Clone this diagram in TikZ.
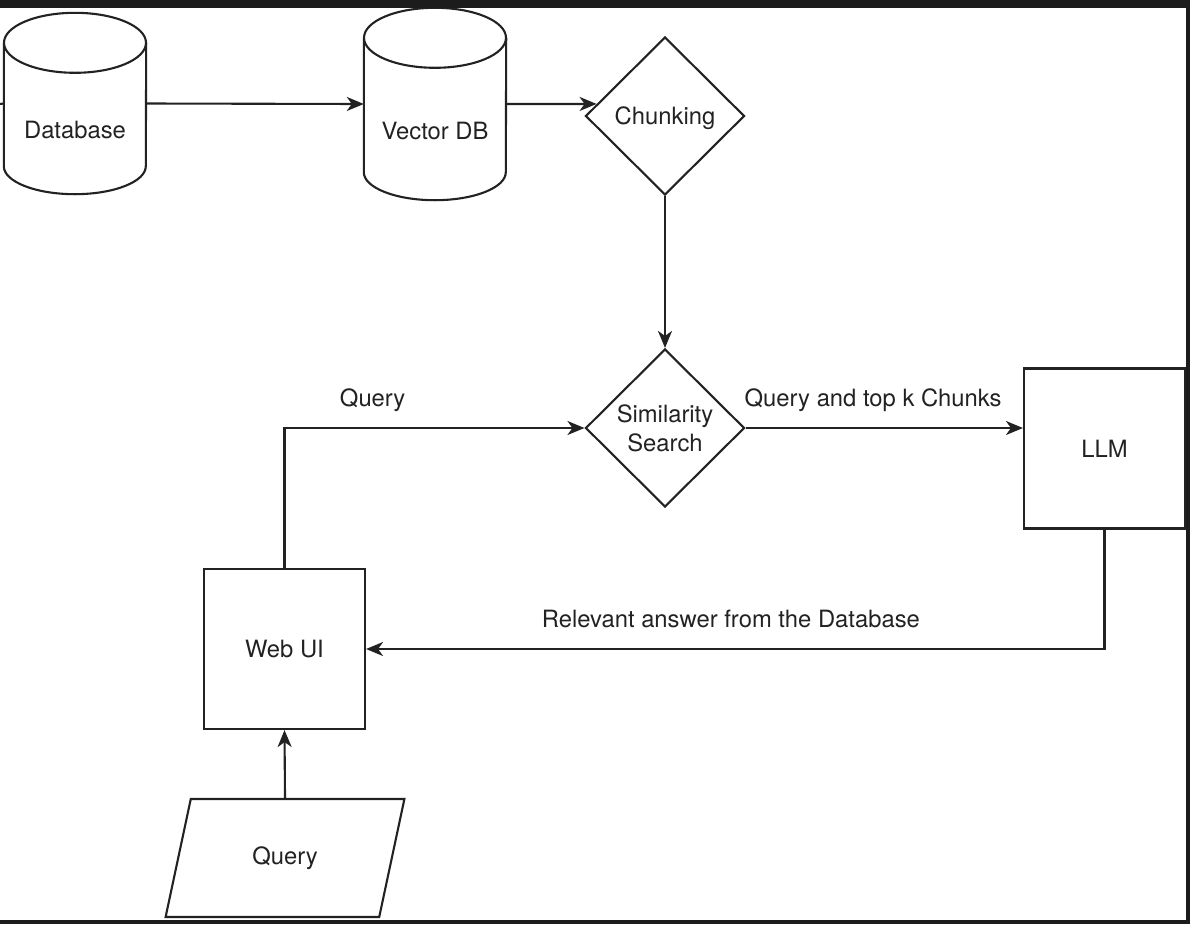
\documentclass[tikz,border=0pt]{standalone}
\usepackage{fontspec}
\setmainfont{TeX Gyre Heros}
\usetikzlibrary{arrows.meta,positioning,shapes.geometric}

\definecolor{ink}{HTML}{222222}
\definecolor{frame}{HTML}{1C1C1C}

\newcommand{\lowered}[1]{\raisebox{-35pt}[0pt][0pt]{#1}}

\begin{document}
\begin{tikzpicture}[
  x=1pt, y=-1pt,
  >={Stealth[length=17pt, width=14pt, inset=5pt]},
  every node/.style={font=\fontsize{23.8}{29}\selectfont, text=ink},
  wire/.style={draw=ink, line width=2.1pt},
  store/.style={minimum width=142pt, minimum height=#1, inner sep=0pt,
    append after command={\pgfextra{
      \draw[wire] ([yshift=-30pt]\tikzlastnode.north) ellipse [x radius=71pt, y radius=30pt];
      \draw[wire] ([yshift=-30pt]\tikzlastnode.north west) -- ([yshift=28pt]\tikzlastnode.south west)
        arc[start angle=180, end angle=360, x radius=71pt, y radius=28pt]
        -- ([yshift=-30pt]\tikzlastnode.north east);
    }}},
  store/.default=181pt,
  choice/.style={wire, diamond, inner sep=0pt, minimum width=159pt, minimum height=158pt, align=center},
  block/.style={wire, rectangle, minimum width=161pt, minimum height=160pt},
  entry/.style={wire, trapezium, trapezium left angle=72, trapezium right angle=108, trapezium stretches=true, minimum width=240pt, minimum height=118pt},
  tag/.style={anchor=base, yshift=22pt}
]
\useasboundingbox (0,0) rectangle (1190,924);

% Nodes
\node[store] (db) at (75, 103.5) {\lowered{Database}};
\node[store=192pt] (vdb) at (435, 104) {\lowered{Vector DB}};
\node[choice, text depth=0pt] (chunk) at (665, 116) {Chunking};
\node[choice] (sim) at (665, 428) {Similarity\\Search};
\node[block] (llm) at (1104.5, 448.5) {LLM};
\node[block] (web) at (284.5, 649) {Web UI};
\node[entry] (qry) at (285, 858) {Query};

\coordinate (edge) at (0, 104);

% Arcs: ingestion
\draw[wire] (edge) -- (db.west);
\draw[wire, ->] (db.east) -- (vdb.west);
\draw[wire, ->] (vdb.east) -- (chunk.170);
\draw[wire, ->] (chunk.south) -- (sim.north);

% Arcs: query loop
\draw[wire, ->] (qry.north) -- (web.south);
\draw[wire, ->] (web.north) |- node[tag, pos=0.647] {Query} (sim.west);
\draw[wire, ->] (sim.east) -- node[tag, pos=0.46] {Query and top k Chunks} (sim.east -| llm.west);
\draw[wire, ->] (llm.south) |- node[tag, pos=0.753] {Relevant answer from the Database} (web.east);

% Screenshot frame
\fill[frame] (0, 0) rectangle (1190, 7.5);
\fill[frame] (1186, 0) rectangle (1190, 924);
\fill[frame] (0, 919.5) rectangle (1190, 924);

\end{tikzpicture}
\end{document}
